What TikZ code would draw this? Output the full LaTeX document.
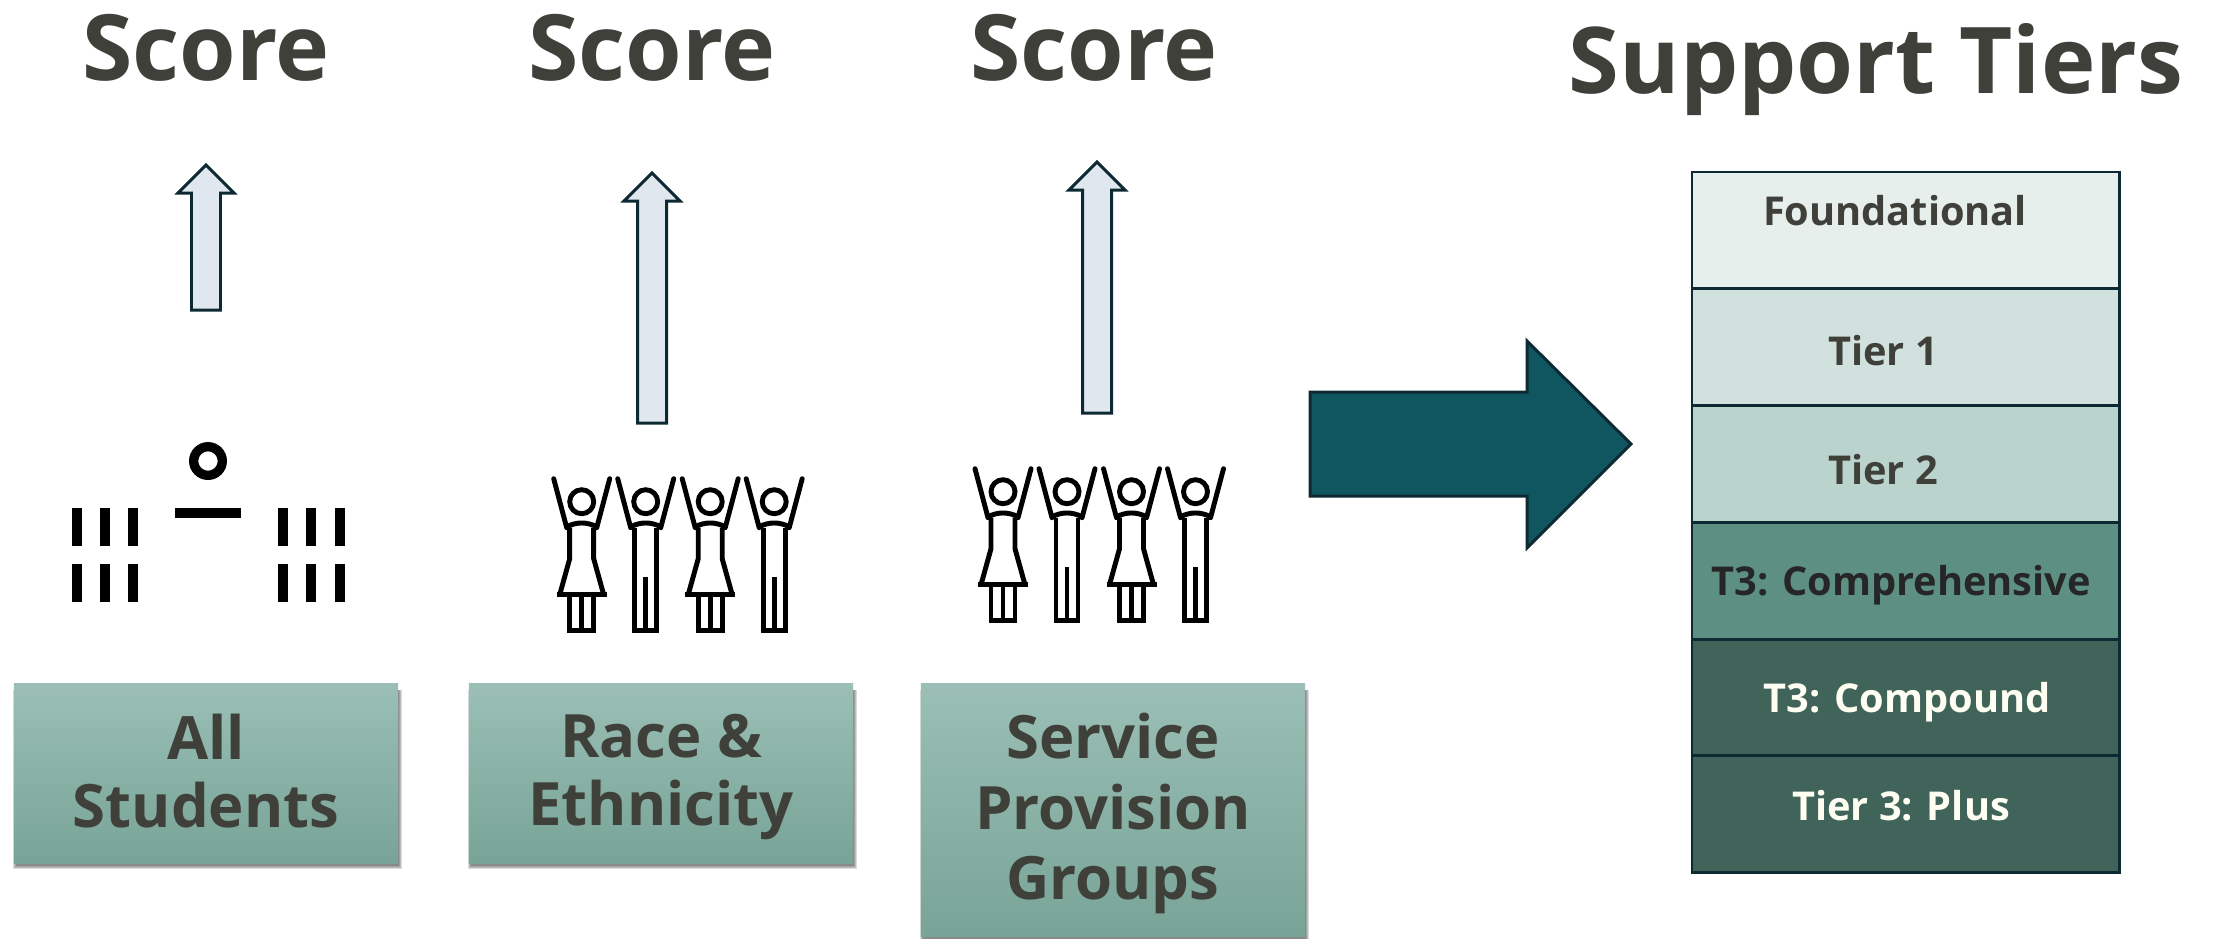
\documentclass[tikz,border=0pt]{standalone}
\usepackage{fontspec}
\setmainfont{Open Sans}
\definecolor{ink}{HTML}{40403B}
\definecolor{edge}{HTML}{0D2A32}
\tikzstyle{head}=[font=\fontsize{26}{30}\selectfont\bfseries, text=ink, inner sep=0pt]
\tikzstyle{group}=[rectangle, minimum width=3.84cm, outer sep=0pt, inner sep=0pt, top color={rgb,255:red,155;green,191;blue,182}, bottom color={rgb,255:red,120;green,164;blue,151}]
\tikzstyle{grouptxt}=[font=\fontsize{17}{19.4}\selectfont\bfseries, text=ink, align=center, inner sep=0pt]
\tikzstyle{row}=[rectangle, draw=edge, line width=0.8pt, minimum width=4.27cm, minimum height=1.167cm, inner sep=0pt, outer sep=0pt]
\tikzstyle{rowtxt}=[font=\fontsize{11.3}{13}\selectfont\bfseries, inner sep=0pt]
\tikzstyle{up}=[draw=edge, line width=0.85pt, fill={rgb,255:red,225;green,231;blue,238}, line join=miter]
\tikzstyle{stroke}=[line width=1.4pt, black]
\tikzstyle{tick}=[fill=black, draw=none]
\tikzset{
  arms/.pic={
    \draw [stroke] (0, 0) circle (12);
    \draw [stroke, line cap=round] (-28, -23) -- (-15, 26);
    \draw [stroke, line cap=round] (28, -23) -- (15, 26);
    \draw [stroke] (-15, 25) .. controls (-5, 20) and (5, 20) .. (15, 25);
  },
  woman/.pic={
    \pic at (0, 0) {arms};
    \draw [stroke] (-12, 26) -- (-12, 57) -- (-22, 93) (12, 26) -- (12, 57) -- (22, 93);
    \draw [stroke] (-25, 93) -- (25, 93);
    \draw [stroke] (-12, 93) -- (-12, 129) -- (12, 129) -- (12, 93);
    \draw [stroke] (0, 93) -- (0, 129);
  },
  man/.pic={
    \pic at (0, 0) {arms};
    \draw [stroke] (-11, 26) -- (-11, 129) -- (11, 129) -- (11, 26);
    \draw [stroke] (0, 75) -- (0, 129);
  }
}
\newcommand{\uparr}[3]{\draw [up] (#1-14.5, #3) -- (#1-14.5, #2+28) -- (#1-28, #2+28) -- (#1, #2) -- (#1+28, #2+28) -- (#1+14.5, #2+28) -- (#1+14.5, #3) -- cycle;}
\newcommand{\crowd}[2]{
  \pic at (#1, #2) {woman};
  \pic at (#1+64, #2) {man};
  \pic at (#1+128.5, #2) {woman};
  \pic at (#1+192.5, #2) {man};
}
\newcommand{\softshade}[4]{
  \foreach \s in {0, 1, 2, 3}
    \fill [black, opacity=0.14] (#1-\s+2, #2+6) rectangle (#3+\s+1, #4+\s+3);
}

\begin{document}
\begin{tikzpicture}[x=0.01cm, y=-0.01cm]
    \useasboundingbox (0, 0) rectangle (2213, 938);

    \node [head] (s0) at (206, 48) {Score};
    \node [head] (s1) at (652, 48) {Score};
    \node [head] (s2) at (1094, 48) {Score};
    \node [head, font=\fontsize{26.2}{30}\selectfont\bfseries] (title) at (1876, 70) {Support Tiers};

    \uparr{206}{165}{310}
    \uparr{652}{173}{423}
    \uparr{1097}{162}{413}

    \fill [black] (175, 508) rectangle (241, 518);
    \draw [black, line width=2.65pt] (208, 461) circle (14.3);
    \foreach \x in {72, 100, 128, 278, 306, 335}
      \foreach \y in {508, 564}
        \fill [tick] (\x, \y) rectangle (\x+10, \y+38);

    \crowd{581.7}{501.7}
    \crowd{1003}{491.7}

    \softshade{14}{684}{398}{863}
    \softshade{469}{684}{853}{863}
    \softshade{921}{684}{1305}{936}
    \node [group, minimum height=1.79cm] (g0) at (206, 773.5) {};
    \node [group, minimum height=1.79cm] (g1) at (661, 773.5) {};
    \node [group, minimum height=2.52cm] (g2) at (1113, 810) {};
    \node [grouptxt, yshift=0.6pt] (t0) at (g0) {All\\Students};
    \node [grouptxt, yshift=-1.1pt] (t1) at (g1) {Race \&\\Ethnicity};
    \node [grouptxt, font=\fontsize{17}{20}\selectfont\bfseries, yshift=-1pt] (t2) at (g2) {Service\\Provision\\Groups};

    \draw [draw=edge, line width=0.85pt, fill={rgb,255:red,16;green,86;blue,96}] (1310, 392) -- (1527, 392) -- (1527, 341) -- (1631, 444) -- (1527, 548) -- (1527, 496) -- (1310, 496) -- cycle;

    \node [row, fill={rgb,255:red,230;green,239;blue,235}, anchor=north west] (r0) at (1692, 172) {};
    \node [row, fill={rgb,255:red,209;green,225;blue,221}, anchor=north] (r1) at (r0.south) {};
    \node [row, fill={rgb,255:red,186;green,211;blue,204}, anchor=north] (r2) at (r1.south) {};
    \node [row, fill={rgb,255:red,93;green,144;blue,130}, anchor=north] (r3) at (r2.south) {};
    \node [row, fill={rgb,255:red,64;green,100;blue,90}, anchor=north] (r4) at (r3.south) {};
    \node [row, fill={rgb,255:red,64;green,100;blue,90}, anchor=north] (r5) at (r4.south) {};

    \node [rowtxt, text=ink] (l0) at (1895, 211) {Foundational};
    \node [rowtxt, text=ink] (l1) at (1883, 351) {Tier 1};
    \node [rowtxt, text=ink] (l2) at (1883, 470) {Tier 2};
    \node [rowtxt, text=black!85] (l3) at (1901, 585) {T3: Comprehensive};
    \node [rowtxt, text=white!95!yellow] (l4) at (1907, 702) {T3: Compound};
    \node [rowtxt, text=white!95!yellow] (l5) at (1901, 806) {Tier 3: Plus};
  \end{tikzpicture}
\end{document}
